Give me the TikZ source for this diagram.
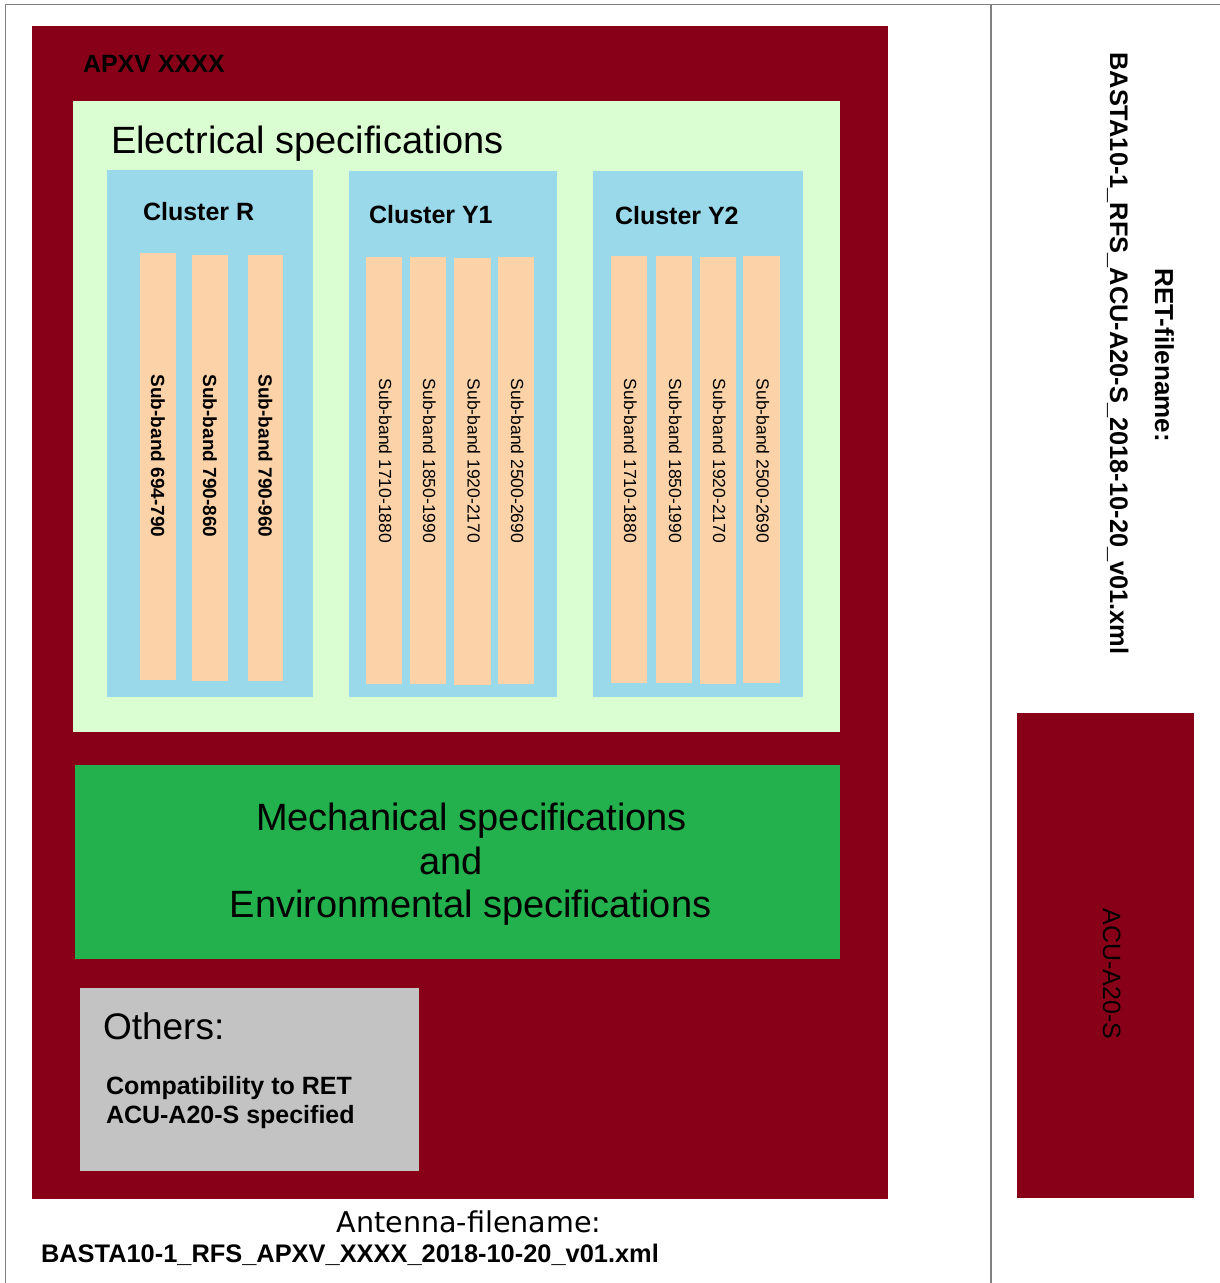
\documentclass[tikz,border=0pt]{standalone}
\usepackage{fontspec}
\setmainfont{Liberation Sans}
\newfontfamily\dejavu{DejaVu Sans}
\definecolor{apxred}{RGB}{136,0,24}
\definecolor{elgreen}{RGB}{218,254,210}
\definecolor{clblue}{RGB}{153,217,234}
\definecolor{sbpeach}{RGB}{252,211,168}
\definecolor{mechgreen}{RGB}{34,177,76}
\definecolor{othgrey}{RGB}{195,195,195}
\definecolor{framegrey}{RGB}{128,128,128}
\tikzset{
  redbox/.style={fill=apxred},
  elbox/.style={fill=elgreen},
  clbox/.style={fill=clblue},
  sbbox/.style={fill=sbpeach},
  mechbox/.style={fill=mechgreen},
  othbox/.style={fill=othgrey},
  framel/.style={draw=framegrey, line width=1.2pt},
  txt/.style={inner sep=0pt, outer sep=0pt, text=black},
  sbRtext/.style={txt, rotate=-90, anchor=base, font=\fontsize{19}{22}\selectfont\bfseries},
  sbYtext/.style={txt, rotate=-90, anchor=base, font=\fontsize{17.5}{21}\selectfont},
  cltitle/.style={txt, anchor=base west, font=\fontsize{25}{30}\selectfont\bfseries},
  mechtext/.style={txt, anchor=base, font=\fontsize{38}{44}\selectfont},
}
\begin{document}
\begin{tikzpicture}[x=1pt,y=-1pt]
\useasboundingbox (0,0) rectangle (1220,1283);
\fill[white] (0,0) rectangle (1220,1283);
% frame
\draw[framel] (5.5,1283) -- (5.5,4.5) -- (1220,4.5);
\draw[framel] (991,4.5) -- (991,1283);
% main antenna box
\path[redbox] (32,26) rectangle (888,1199);
\node[txt, anchor=base west, font=\fontsize{25}{30}\selectfont\bfseries] (apxv) at (83,72) {APXV XXXX};
% electrical
\path[elbox] (73,101) rectangle (840,732);
\node[txt, anchor=base west, font=\fontsize{38}{44}\selectfont] (elec) at (111,153) {Electrical specifications};
% clusters
\path[clbox] (107,170) rectangle (313,697);
\path[clbox] (349,171) rectangle (557,697);
\path[clbox] (593,171) rectangle (803,697);
\node[cltitle] (clR) at (143,220) {Cluster R};
\node[cltitle] (clY1) at (369,223) {Cluster Y1};
\node[cltitle] (clY2) at (615,224) {Cluster Y2};
% sub-bands R
\path[sbbox] (140,253) rectangle (176,680);
\path[sbbox] (192,255) rectangle (228,681);
\path[sbbox] (248,255) rectangle (283,681);
\node[sbRtext] (r1) at (151,456) {Sub-band 694-790};
\node[sbRtext] (r2) at (203,456) {Sub-band 790-860};
\node[sbRtext] (r3) at (258.5,456) {Sub-band 790-960};
% sub-bands Y1
\path[sbbox] (366,257) rectangle (402,684);
\path[sbbox] (410,257) rectangle (446,684);
\path[sbbox] (454,258) rectangle (491,685);
\path[sbbox] (498,257) rectangle (534,684);
\node[sbYtext] (y11) at (379,461) {Sub-band 1710-1880};
\node[sbYtext] (y12) at (423,461) {Sub-band 1850-1990};
\node[sbYtext] (y13) at (467.5,461) {Sub-band 1920-2170};
\node[sbYtext] (y14) at (511,461) {Sub-band 2500-2690};
% sub-bands Y2
\path[sbbox] (611,256) rectangle (647,683);
\path[sbbox] (656,256) rectangle (692,683);
\path[sbbox] (700,257) rectangle (736,684);
\path[sbbox] (743,256) rectangle (780,683);
\node[sbYtext] (y21) at (624,461) {Sub-band 1710-1880};
\node[sbYtext] (y22) at (669,461) {Sub-band 1850-1990};
\node[sbYtext] (y23) at (713,461) {Sub-band 1920-2170};
\node[sbYtext] (y24) at (756.5,461) {Sub-band 2500-2690};
% mechanical
\path[mechbox] (75,765) rectangle (840,959);
\node[mechtext] (mech1) at (471.5,830) {Mechanical specifications};
\node[mechtext] (mech2) at (451,874) {and};
\node[mechtext] (mech3) at (470.5,917) {Environmental specifications};
% others
\path[othbox] (80,988) rectangle (419,1171);
\node[txt, anchor=base west, font=\fontsize{37}{43}\selectfont] (oth) at (103,1039) {Others:};
\node[txt, anchor=base west, font=\fontsize{25}{29}\selectfont\bfseries] (comp1) at (106,1094) {Compatibility to RET};
\node[txt, anchor=base west, font=\fontsize{25}{29}\selectfont\bfseries] (comp2) at (106,1123) {ACU-A20-S specified};
% antenna filename
\node[txt, anchor=base, font=\dejavu\fontsize{28.6}{33}\selectfont] (antfn) at (469,1232) {Antenna-filename:};
\node[txt, anchor=base west, font=\fontsize{25.4}{30}\selectfont\bfseries] (antfile) at (41,1262) {BASTA10-1\_RFS\_APXV\_XXXX\_2018-10-20\_v01.xml};
% RET side
\node[txt, rotate=-90, anchor=base, font=\fontsize{26}{31}\selectfont\bfseries] (retfn) at (1155,355) {RET-filename:};
\node[txt, rotate=-90, anchor=base, font=\fontsize{25.4}{30}\selectfont\bfseries] (retfile) at (1110,353.5) {BASTA10-1\_RFS\_ACU-A20-S\_2018-10-20\_v01.xml};
\path[redbox] (1017,713) rectangle (1194,1198);
\node[txt, rotate=-90, anchor=base, font=\fontsize{25}{30}\selectfont] (acu) at (1103,974) {ACU-A20-S};
\end{tikzpicture}
\end{document}
